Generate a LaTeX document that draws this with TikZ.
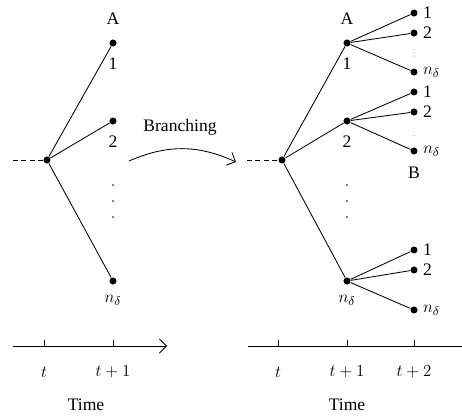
\documentclass[tikz,border=0pt]{standalone}
\usepackage{fontspec}
\setmainfont{Liberation Serif}
\usetikzlibrary{positioning,arrows.meta}

\begin{document}
\begin{tikzpicture}[>={Straight Barb[length=5pt,width=10pt]}, semithick,
  every node/.style={font=\fontsize{12.5}{15}\selectfont},
  dot/.style={circle, fill, inner sep=0pt, minimum size=5pt, label distance=1pt},
  labove/.style={label={[yshift=7pt]above:#1}},
  lbelow/.style={label={[yshift=-4pt]below:#1}},
  lright/.style={label=right:#1},
  lead/.style={dash pattern=on 3.5pt off 2.5pt}]
  \useasboundingbox (0,0) rectangle (11.55,10.425);
  % left tree
  \node[dot] (l0) at (1.175,6.425) {};
  \node[dot, labove=A, lbelow=1] (l1) at (2.825,9.35) {};
  \node[dot, lbelow=2] (l2) at (2.825,7.4) {};
  \node[dot, lbelow=$n_\delta$] (ln) at (2.825,3.4) {};
  \coordinate (lin) at (0.325,6.425);
  \draw[lead] (lin) -- (l0);
  \foreach \c in {l1,l2,ln} \draw (l0) -- (\c);
  \foreach \y in {5.8,5.4,5.0} \fill (2.825,\y) circle (0.55pt);
  % branching arrow
  \coordinate (bs) at (3.225,6.4);
  \coordinate (be) at (5.9,6.375);
  \draw[->] (bs) to[bend left=24] (be);
  \node (br) at (4.5,7.25) {Branching};
  % right tree
  \node[dot] (r0) at (7.05,6.425) {};
  \node[dot, labove=A, lbelow=1] (r1) at (8.675,9.35) {};
  \node[dot, lbelow=2] (r2) at (8.675,7.4) {};
  \node[dot, lbelow=$n_\delta$] (rn) at (8.675,3.4) {};
  \coordinate (rin) at (6.175,6.425);
  \draw[lead] (rin) -- (r0);
  \foreach \c in {r1,r2,rn} \draw (r0) -- (\c);
  \foreach \y in {5.8,5.4,5.0} \fill (8.675,\y) circle (0.55pt);
  % second step
  \foreach \p/\ya/\yb/\yn in {r1/10.1/9.6/8.625, r2/8.125/7.625/6.65, rn/4.175/3.675/2.675} {
    \node[dot, lright=1] (\p a) at (10.35,\ya) {};
    \node[dot, lright=2] (\p b) at (10.35,\yb) {};
    \node[dot, lright=$n_\delta$] (\p n) at (10.35,\yn) {};
    \draw (\p) -- (\p a);
    \draw (\p) -- (\p b);
    \draw (\p) -- (\p n);
  }
  \node[below=5pt of r2n] (bB) {B};
  \foreach \y in {9.19,9.11,9.02,7.22,7.13,7.04} \fill[gray] (10.35,\y) circle (0.35pt);
  % time axes
  \coordinate (la0) at (0.325,1.775);
  \coordinate (la1) at (4.175,1.775);
  \draw[->] (la0) -- (la1);
  \foreach \x/\t [count=\i] in {1.1/$t$, 2.825/$t+1$} {
    \coordinate (lt\i) at (\x,1.775);
    \draw (lt\i) -- ++(0,0.15);
    \node (ltl\i) at (\x,1.125) {\t};
  }
  \node (ltime) at (2.15,0.3) {Time};
  \coordinate (ra0) at (6.2,1.775);
  \coordinate (ra1) at (11.75,1.775);
  \draw[->] (ra0) -- (ra1);
  \foreach \x/\t [count=\i] in {6.95/$t$, 8.675/$t+1$, 10.35/$t+2$} {
    \coordinate (rt\i) at (\x,1.775);
    \draw (rt\i) -- ++(0,0.15);
    \node (rtl\i) at (\x,1.125) {\t};
  }
  \node (rtime) at (8.675,0.3) {Time};
\end{tikzpicture}
\end{document}
